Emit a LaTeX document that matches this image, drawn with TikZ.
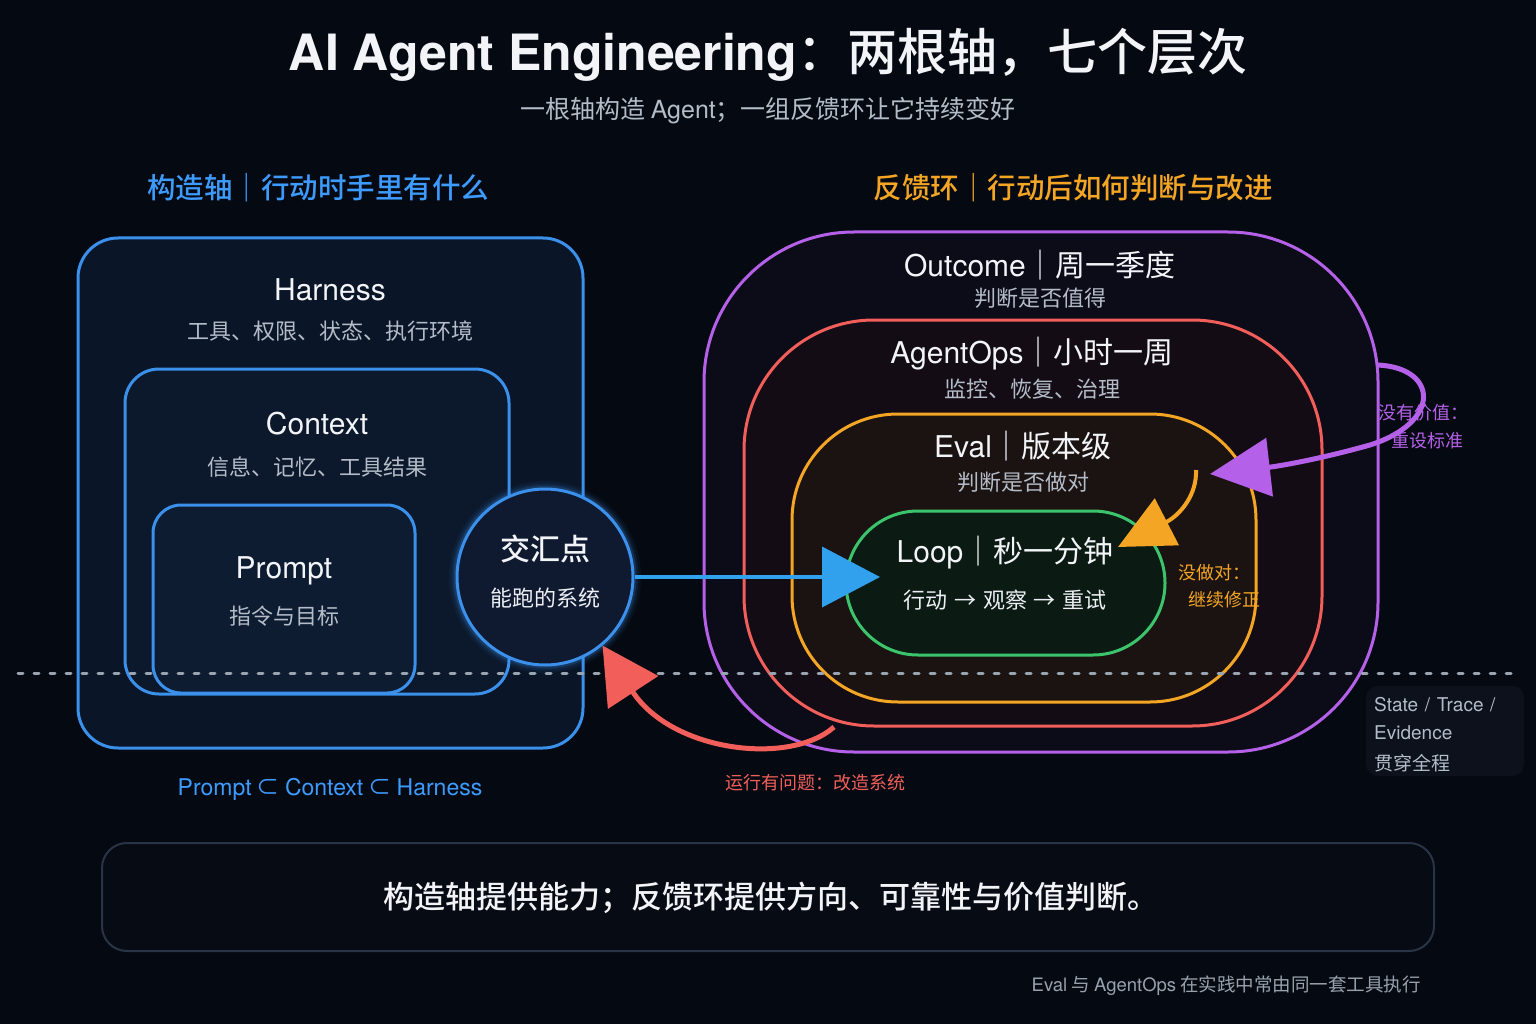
\documentclass[tikz,border=0pt]{standalone}
\usepackage{fontspec}
\setmainfont{Noto Sans CJK SC}
\newfontfamily\medfont{Noto Sans CJK SC}[UprightFont={* Medium}, BoldFont={* Bold}]
\newfontfamily\latfont{TeX Gyre Heros}
\newcommand*{\lat}[1]{{\latfont #1}}
\usetikzlibrary{arrows.meta}

\definecolor{bgdark}{HTML}{050A12}
\definecolor{txtwhite}{HTML}{F2F4F8}
\definecolor{txtgray}{HTML}{B4BCC8}
\definecolor{axisblue}{HTML}{3A90EA}
\definecolor{headblue}{HTML}{3D9BFF}
\definecolor{loopgreen}{HTML}{3CC46C}
\definecolor{evalorange}{HTML}{F5A524}
\definecolor{opsred}{HTML}{F25F5A}
\definecolor{outpurple}{HTML}{B560E8}
\definecolor{dotgray}{HTML}{9AA4B0}
\definecolor{harnessfill}{HTML}{0A1527}
\definecolor{contextfill}{HTML}{0C192D}
\definecolor{promptfill}{HTML}{0E1C32}
\definecolor{hubfill}{HTML}{0F1A30}
\definecolor{outfill}{HTML}{0C0B18}
\definecolor{opsfill}{HTML}{130C15}
\definecolor{evalfill}{HTML}{1A1311}
\definecolor{loopfill}{HTML}{0B1B14}
\definecolor{notefill}{HTML}{0C111B}
\definecolor{barline}{HTML}{2A3448}
\definecolor{barfill}{HTML}{070B14}

\tikzset{
  layerbox/.style={draw, line width=3pt, rounded corners=#1, inner sep=0pt},
  bigtxt/.style={font=\fontsize{30}{34}\selectfont, text=txtwhite, inner sep=0pt},
  smalltxt/.style={font=\fontsize{22}{26}\selectfont, text=txtgray, inner sep=0pt},
  sidetxt/.style={font=\fontsize{18}{22}\selectfont, inner sep=0pt},
  headtxt/.style={font=\fontsize{28.5}{32}\selectfont\medfont, inner sep=0pt},
}

\begin{document}
\begin{tikzpicture}[x=1pt, y=-1pt]

\useasboundingbox (0,0) rectangle (1536,1024);
\fill[bgdark] (0,0) rectangle (1536,1024);

% Title
\node[font=\fontsize{50}{54}\selectfont\medfont, text=txtwhite] (title) at (768,55) {{\latfont\bfseries AI Agent Engineering}：两根轴，七个层次};
\node[font=\fontsize{25}{28}\selectfont, text=txtgray] (subtitle) at (768,111) {一根轴构造 \lat{Agent}；一组反馈环让它持续变好};

% Headings
\node[headtxt, text=headblue]   (lefthead)  at (318,188)  {构造轴｜行动时手里有什么};
\node[headtxt, text=evalorange] (righthead) at (1073,188) {反馈环｜行动后如何判断与改进};

% Construction axis
\node[layerbox=40pt, draw=axisblue, fill=harnessfill, minimum width=505pt, minimum height=510pt] (harness) at (330.5,493) {};
\node[bigtxt]   (harnessT) at (330,290) {\lat{Harness}};
\node[smalltxt] (harnessS) at (330,331) {工具、权限、状态、执行环境};

\node[layerbox=34pt, draw=axisblue, fill=contextfill, minimum width=384pt, minimum height=325pt] (context) at (317,531.5) {};
\node[bigtxt]   (contextT) at (317,424) {\lat{Context}};
\node[smalltxt] (contextS) at (317,467) {信息、记忆、工具结果};

\node[layerbox=28pt, draw=axisblue, fill=promptfill, minimum width=262pt, minimum height=188pt] (prompt) at (284,599) {};
\node[bigtxt]   (promptT) at (284,571) {\lat{Prompt}};
\node[smalltxt] (promptS) at (284,616) {指令与目标};

\node[sidetxt, font=\fontsize{23}{26}\selectfont, text=headblue] (subset) at (330,789) {\lat{Prompt} ⊂ \lat{Context} ⊂ \lat{Harness}};

% Feedback loops
\node[layerbox=150pt, draw=outpurple, fill=outfill, minimum width=674pt, minimum height=520pt] (outcome) at (1041,492) {};
\node[bigtxt]   (outcomeT) at (1040,265) {\lat{Outcome}｜周一季度};
\node[smalltxt] (outcomeS) at (1040,298) {判断是否值得};

\node[layerbox=130pt, draw=opsred, fill=opsfill, minimum width=578pt, minimum height=406pt] (agentops) at (1033,523) {};
\node[bigtxt]   (agentopsT) at (1032,354) {\lat{AgentOps}｜小时一周};
\node[smalltxt] (agentopsS) at (1032,389) {监控、恢复、治理};

\node[layerbox=106pt, draw=evalorange, fill=evalfill, minimum width=464pt, minimum height=288pt] (eval) at (1024,558) {};
\node[bigtxt]   (evalT) at (1023,446) {\lat{Eval}｜版本级};
\node[smalltxt] (evalS) at (1023,482) {判断是否做对};

\node[layerbox=72pt, draw=loopgreen, fill=loopfill, minimum width=319pt, minimum height=144pt] (loop) at (1005.5,583) {};
\node[bigtxt]   (loopT) at (1005,553) {\lat{Loop}｜秒一分钟};
\node[smalltxt, text=txtwhite!92!txtgray] (loopS) at (1005,600) {行动\hspace{0.3em}→\hspace{0.3em}观察\hspace{0.3em}→\hspace{0.3em}重试};

% Meeting point
\foreach \w/\o in {16/0.06, 11/0.10, 7/0.18}
  \draw[axisblue, line width=\w pt, opacity=\o] (545,577) circle (88);
\node[circle, draw=axisblue, line width=3pt, fill=hubfill, minimum size=176pt, inner sep=0pt] (hub) at (545,577) {};
\node[bigtxt, font=\fontsize{30}{34}\selectfont\medfont] (hubT) at (545,549) {交汇点};
\node[smalltxt, text=txtwhite!92!txtgray] (hubS) at (545,598) {能跑的系统};

% State / Trace line
\draw[dotgray, line width=3pt, line cap=round, dash pattern=on 5pt off 11pt] (18,673) -- (1512,673);

\node[fill=notefill, rounded corners=12pt, minimum width=158pt, minimum height=90pt] (note) at (1445,731) {};
\node[sidetxt, font=\fontsize{19}{22}\selectfont, text=txtgray, anchor=west] (noteA) at (1374,705) {\lat{State\hspace{0.35em}/\hspace{0.35em}Trace\hspace{0.35em}/}};
\node[sidetxt, font=\fontsize{19}{22}\selectfont, text=txtgray, anchor=west] (noteB) at (1374,733) {\lat{Evidence}};
\node[sidetxt, font=\fontsize{19}{22}\selectfont, text=txtgray, anchor=west] (noteC) at (1374,763) {贯穿全程};

% Arrows
\coordinate (bluetip) at (880,577);
\draw[axisblue!85!cyan, line width=4pt, -{Triangle[length=58pt, width=60pt]}] (hub.east) -- (bluetip);

\coordinate (evalstart) at (1196,470);
\coordinate (evaltip) at (1118,547);
\draw[evalorange, line width=4pt, -{Triangle[length=55pt, width=52pt]}]
  (evalstart) .. controls (1197,495) and (1180,515) .. (evaltip);
\node[sidetxt, text=evalorange, anchor=west] (evalnoteA) at (1178,573) {没做对：};
\node[sidetxt, text=evalorange, anchor=west] (evalnoteB) at (1188,600) {继续修正};

\coordinate (outstart) at (1378,365);
\coordinate (outtip) at (1210,474);
\draw[outpurple, line width=5pt, -{Triangle[length=60pt, width=58pt]}]
  (outstart) .. controls (1438,368) and (1442,422) .. (1370,445)
  .. controls (1320,459) and (1280,466) .. (outtip);
\node[sidetxt, text=outpurple, anchor=west] (outnoteA) at (1378,413) {没有价值：};
\node[sidetxt, text=outpurple, anchor=west] (outnoteB) at (1391,441) {重设标准};

\coordinate (opsstart) at (834,727);
\draw[opsred, line width=5pt, -{Triangle[length=56pt, width=59pt]}]
  (opsstart) .. controls (790,766) and (672,752) .. (hub.-50);
\node[sidetxt, text=opsred] (opsnote) at (815,783) {运行有问题：改造系统};

% Summary bar
\node[draw=barline, line width=2pt, fill=barfill, rounded corners=25pt, minimum width=1332pt, minimum height=108pt] (summary) at (768,897) {};
\node[bigtxt, font=\fontsize{31}{34}\selectfont\medfont] (summaryT) at (771,898) {构造轴提供能力；反馈环提供方向、可靠性与价值判断。};

\node[sidetxt, font=\fontsize{18.5}{20}\selectfont, text=txtgray!85!bgdark, anchor=east] (footer) at (1421,986) {\lat{Eval} 与 \lat{AgentOps} 在实践中常由同一套工具执行};

\end{tikzpicture}
\end{document}
